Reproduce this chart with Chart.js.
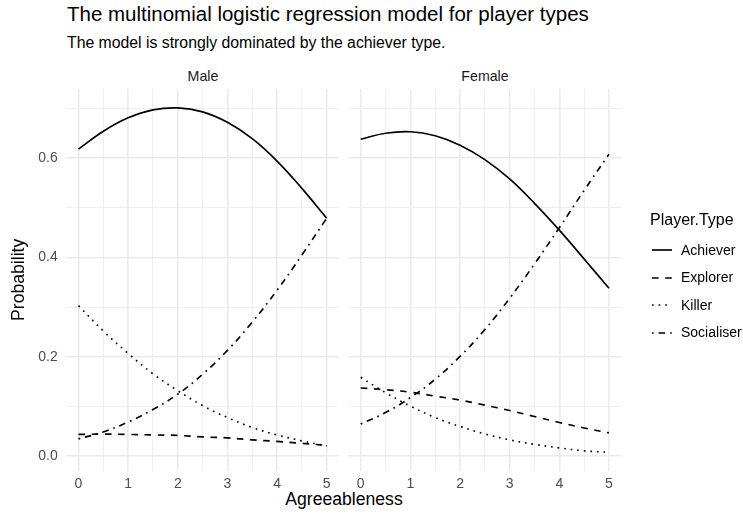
<!DOCTYPE html>
<html><head><meta charset="utf-8">
<script src="https://cdn.jsdelivr.net/npm/chart.js@4.4.1/dist/chart.umd.min.js"></script>
<style>
html,body{margin:0;padding:0;background:#fff;}
body{width:743px;height:516px;position:relative;overflow:hidden;font-family:"Liberation Sans",Arial,sans-serif;}
.t{position:absolute;white-space:nowrap;line-height:1;}
canvas{position:absolute;top:0;}
</style></head><body>
<div class="t" style="left:67px;top:4px;font-size:20.5px;color:#000">The multinomial logistic regression model for player types</div>
<div class="t" style="left:67px;top:35px;font-size:15.8px;color:#000">The model is strongly dominated by the achiever type.</div>
<div class="t" id="stripMale" style="left:203px;top:69px;font-size:14.2px;color:#1a1a1a;transform:translateX(-50%)"></div>
<div class="t" id="stripFemale" style="left:485px;top:69px;font-size:14.2px;color:#1a1a1a;transform:translateX(-50%)"></div>
<div class="t" id="xTitle" style="left:344px;top:491px;font-size:17.6px;color:#000;transform:translateX(-50%)">Agreeableness</div>
<canvas id="cA" width="343" height="516" style="left:0"></canvas>
<canvas id="cB" width="400" height="516" style="left:343px"></canvas>
<div id="legend"></div>
<script>
// ---- data ----
const panels = ['Male', 'Female'];
const seriesNames = ['Achiever', 'Explorer', 'Killer', 'Socialiser'];
const agreeableness = [0, 0.5, 1, 1.5, 2, 2.5, 3, 3.5, 4, 4.5, 5];

const maleAchiever   = [0.618, 0.654, 0.681, 0.697, 0.701, 0.693, 0.672, 0.639, 0.594, 0.539, 0.479];
const maleExplorer   = [0.044, 0.0445, 0.044, 0.043, 0.042, 0.039, 0.037, 0.033, 0.030, 0.026, 0.022];
const maleKiller     = [0.303, 0.252, 0.207, 0.166, 0.132, 0.102, 0.078, 0.058, 0.043, 0.031, 0.021];
const maleSocialiser = [0.035, 0.049, 0.069, 0.094, 0.125, 0.165, 0.213, 0.270, 0.334, 0.405, 0.479];

const femaleAchiever   = [0.638, 0.650, 0.653, 0.645, 0.626, 0.597, 0.558, 0.509, 0.455, 0.397, 0.338];
const femaleExplorer   = [0.1375, 0.134, 0.129, 0.121, 0.113, 0.103, 0.092, 0.080, 0.068, 0.057, 0.047];
const femaleKiller     = [0.159, 0.128, 0.101, 0.078, 0.060, 0.045, 0.033, 0.024, 0.017, 0.011, 0.008];
const femaleSocialiser = [0.065, 0.088, 0.118, 0.155, 0.201, 0.255, 0.318, 0.387, 0.460, 0.535, 0.608];

const xTickValues = [0, 1, 2, 3, 4, 5];
const xTickLabels = ['0', '1', '2', '3', '4', '5'];
const xGridValues = [0, 0.5, 1, 1.5, 2, 2.5, 3, 3.5, 4, 4.5, 5];
const yTickValues = [0, 0.2, 0.4, 0.6];
const yTickLabels = ['0.0', '0.2', '0.4', '0.6'];
const yGridValues = [0, 0.1, 0.2, 0.3, 0.4, 0.5, 0.6, 0.7];

// ---- styles ----
const LW = 1.65;
const dashes = {
  Achiever: [],
  Explorer: [6.6, 6.6],
  Killer: [1.65, 4.95],
  Socialiser: [1.65, 4.95, 6.6, 4.95]
};
const FONT = '"Liberation Sans", Arial, sans-serif';
const GRID = '#ebebeb';

document.getElementById('stripMale').textContent = panels[0];
document.getElementById('stripFemale').textContent = panels[1];

function near(arr, v) { return arr.findIndex(a => Math.abs(a - v) < 1e-9); }

function makeDatasets(vals) {
  return seriesNames.map((name, i) => ({
    label: name,
    data: agreeableness.map((x, j) => ({ x: x, y: vals[i][j] })),
    borderColor: '#000',
    borderWidth: LW,
    borderDash: dashes[name],
    borderCapStyle: 'butt',
    pointRadius: 0,
    fill: false,
    tension: 0.4
  }));
}

function xScale() {
  return {
    type: 'linear', min: -0.25, max: 5.25,
    afterBuildTicks: s => { s.ticks = xGridValues.map(v => ({ value: v })); },
    afterFit: s => { s.height = 516 - 470.7; },
    border: { display: false },
    grid: {
      color: GRID, drawTicks: false,
      lineWidth: c => near(xTickValues, c.tick.value) >= 0 ? 1.6 : 0.8
    },
    ticks: {
      autoSkip: false, maxRotation: 0, padding: 5, color: '#4d4d4d',
      font: { family: FONT, size: 14 },
      callback: v => { const k = near(xTickValues, v); return k >= 0 ? xTickLabels[k] : ''; }
    }
  };
}

function yScale(showLabels, width) {
  return {
    type: 'linear', min: -0.029, max: 0.739,
    afterBuildTicks: s => { s.ticks = yGridValues.map(v => ({ value: v })); },
    afterFit: s => { s.width = width; },
    border: { display: false },
    grid: {
      color: GRID, drawTicks: false,
      lineWidth: c => near(yTickValues, c.tick.value) >= 0 ? 1.6 : 0.8
    },
    title: {
      display: showLabels, text: 'Probability', color: '#000',
      font: { family: FONT, size: 17.6 }, padding: { top: 8.4, bottom: 0 }
    },
    ticks: {
      display: showLabels, autoSkip: false, padding: 8.4, color: '#4d4d4d',
      font: { family: FONT, size: 14 },
      callback: v => { const k = near(yTickValues, v); return k >= 0 ? yTickLabels[k] : ''; }
    }
  };
}

function makeChart(id, vals, showY, yWidth, rightPad) {
  return new Chart(document.getElementById(id), {
    type: 'line',
    data: { datasets: makeDatasets(vals) },
    options: {
      responsive: false, animation: false, devicePixelRatio: 1,
      layout: { padding: { left: 0, right: rightPad, top: 89, bottom: 0 } },
      plugins: { legend: { display: false }, tooltip: { enabled: false }, title: { display: false } },
      scales: { x: xScale(), y: yScale(showY, yWidth) }
    }
  });
}

makeChart('cA', [maleAchiever, maleExplorer, maleKiller, maleSocialiser], true, 66.1, 343 - 339.1);
makeChart('cB', [femaleAchiever, femaleExplorer, femaleKiller, femaleSocialiser], false, 5.3, 400 - 278.4);

// ---- legend (HTML, built from series names and dash styles) ----
const leg = document.getElementById('legend');
const lt = document.createElement('div');
lt.className = 't';
lt.style.cssText = 'left:650px;top:212px;font-size:16px;color:#000';
lt.textContent = 'Player.Type';
leg.appendChild(lt);
const rowCenters = [250, 277.5, 305, 332.5];
seriesNames.forEach((name, i) => {
  const cy = rowCenters[i];
  const svgNS = 'http://www.w3.org/2000/svg';
  const svg = document.createElementNS(svgNS, 'svg');
  svg.setAttribute('width', '24'); svg.setAttribute('height', '10');
  svg.style.cssText = 'position:absolute;left:650px;top:' + (cy - 5) + 'px';
  const ln = document.createElementNS(svgNS, 'line');
  ln.setAttribute('x1', '2'); ln.setAttribute('x2', '22');
  ln.setAttribute('y1', '5'); ln.setAttribute('y2', '5');
  ln.setAttribute('stroke', '#000'); ln.setAttribute('stroke-width', LW);
  if (dashes[name].length) ln.setAttribute('stroke-dasharray', dashes[name].join(' '));
  svg.appendChild(ln);
  leg.appendChild(svg);
  const tx = document.createElement('div');
  tx.className = 't';
  tx.style.cssText = 'left:681px;top:' + (cy - 7.5) + 'px;font-size:14px;color:#000';
  tx.textContent = name;
  leg.appendChild(tx);
});
</script>
</body></html>
